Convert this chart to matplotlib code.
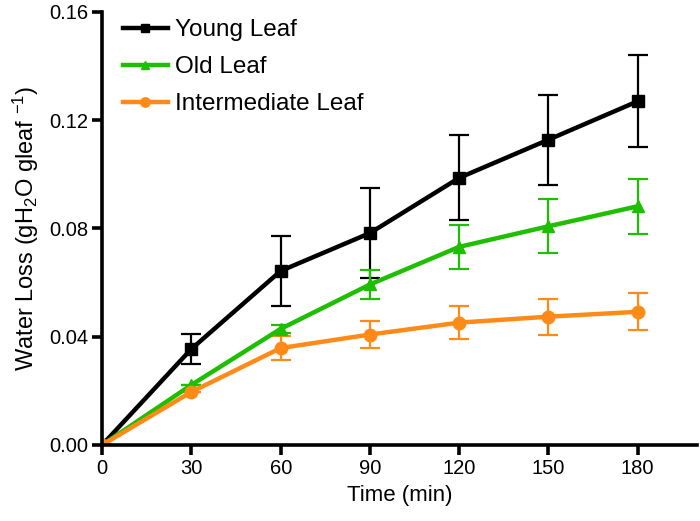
import matplotlib
matplotlib.use("Agg")
import matplotlib.pyplot as plt

plt.rcParams['font.family'] = ['Liberation Sans', 'DejaVu Sans']
plt.rcParams['mathtext.default'] = 'regular'

time = [0, 30, 60, 90, 120, 150, 180]
young = [0.0, 0.0355, 0.0643, 0.0783, 0.0987, 0.1128, 0.1270]
young_err = [0.0, 0.0055, 0.0130, 0.0166, 0.0157, 0.0166, 0.0170]
old = [0.0, 0.0222, 0.0429, 0.0593, 0.0732, 0.0808, 0.0882]
old_err = [0.0, 0.0, 0.0015, 0.0052, 0.0081, 0.0100, 0.0102]
inter = [0.0, 0.0196, 0.0358, 0.0408, 0.0452, 0.0474, 0.0492]
inter_err = [0.0, 0.0, 0.0045, 0.0050, 0.0060, 0.0066, 0.0068]

labels = ["Young Leaf", "Old Leaf", "Intermediate Leaf"]
colors = ["#000000", "#1dbf00", "#ff8a18"]
markers = ["s", "^", "o"]

fig = plt.figure(figsize=(7.0, 5.21), dpi=100)
ax = fig.add_axes([0.146, 0.146, 0.850, 0.831])

handles = []
for y, e, lab, c, m in zip([young, old, inter], [young_err, old_err, inter_err], labels, colors, markers):
    cont = ax.errorbar(time, y, yerr=e, color=c, marker=m, markersize=8.5 if m != "o" else 9,
                       linewidth=3.2, elinewidth=1.6, capsize=7, capthick=1.6, label=lab)
    handles.append(cont[0])

ax.set_xlim(0, 200)
ax.set_ylim(0, 0.16)
ax.set_xticks([0, 30, 60, 90, 120, 150, 180])
ax.set_yticks([0.0, 0.04, 0.08, 0.12, 0.16])
ax.set_yticklabels(["0.00", "0.04", "0.08", "0.12", "0.16"])
for s in ["top", "right"]:
    ax.spines[s].set_visible(False)
for s in ["left", "bottom"]:
    ax.spines[s].set_linewidth(2.6)
ax.tick_params(width=2.6, length=7, labelsize=14.5, pad=3)
ax.set_xlabel("Time (min)", fontsize=16, labelpad=5)
ax.set_ylabel("Water Loss (gH$_2$O gleaf $^{-1}$)", fontsize=17, labelpad=6)

leg = ax.legend(handles, labels, loc="upper left", frameon=False, fontsize=17.5, handlelength=1.85,
                handletextpad=0.3, labelspacing=0.62, borderpad=0, borderaxespad=0,
                bbox_to_anchor=(123 / 700, 1 - 19 / 521), bbox_transform=fig.transFigure,
                markerscale=0.75)

fig.savefig("out.png", dpi=100)
